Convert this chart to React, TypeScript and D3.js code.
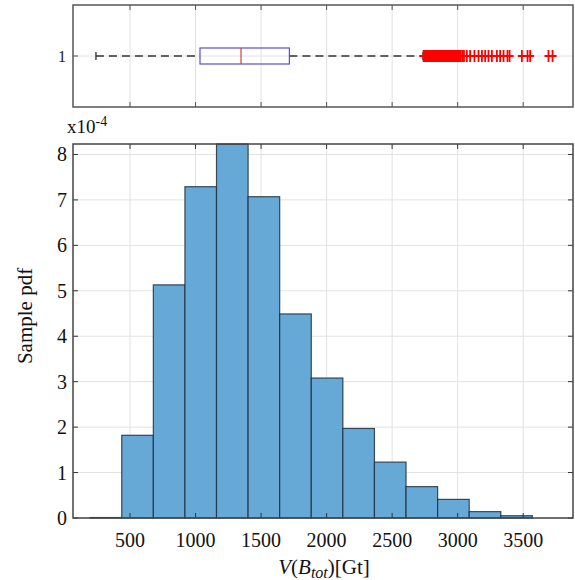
import React, { useRef, useEffect } from "react";
import * as d3 from "d3";

// histogram bins (Gt) and sample pdf heights (x1e-4)
const binEdges = [196, 437, 678, 919, 1160, 1401, 1642, 1883, 2124, 2365, 2606, 2847, 3088, 3329, 3570];
const pdfValues = [0.01, 1.82, 5.13, 7.29, 8.23, 7.07, 4.49, 3.08, 1.97, 1.23, 0.69, 0.41, 0.14, 0.05];

const xTicks = [500, 1000, 1500, 2000, 2500, 3000, 3500];
const yTicks = [0, 1, 2, 3, 4, 5, 6, 7, 8];

// box plot: lower whisker, q1, median, q3, upper whisker
const boxStats = [240, 1034, 1347, 1716, 2735];
const outliers = [
  2740, 2745, 2751, 2756, 2760, 2764, 2768, 2773, 2779, 2784, 2790, 2796, 2801, 2806,
  2812, 2817, 2822, 2828, 2835, 2840, 2846, 2852, 2858, 2864, 2870, 2875, 2881, 2887,
  2893, 2899, 2905, 2911, 2917, 2922, 2928, 2934, 2940, 2946, 2952, 2957, 2963, 2969,
  2975, 2981, 2987, 2992, 2998, 3004, 3010, 3016, 3022, 3035, 3048,
  3070, 3095, 3128, 3159, 3185, 3210, 3235, 3261, 3299, 3324, 3350, 3380, 3396,
  3490, 3533, 3553, 3693, 3724,
];

const FONT = "'Liberation Serif', 'DejaVu Serif', serif";

export default function App() {
  const svgRef = useRef<SVGSVGElement>(null);

  useEffect(() => {
    const svg = d3.select(svgRef.current);
    svg.selectAll("*").remove();

    const left = 73, right = 573;
    const box = { top: 5, bottom: 107 };
    const main = { top: 144, bottom: 518 };

    const x = d3.scaleLinear().domain([65, 3880]).range([left, right]);
    const y = d3.scaleLinear().domain([0, 8.23]).range([main.bottom, main.top]);
    const yBox = d3.scaleLinear().domain([0.5, 1.5]).range([box.bottom, box.top]);

    const gridColor = "#e2e2e2";
    const axisColor = "#555";

    // ---------- top panel: box plot ----------
    const gb = svg.append("g");
    gb.selectAll("line.vgrid")
      .data(xTicks)
      .join("line")
      .attr("x1", (d) => x(d)).attr("x2", (d) => x(d))
      .attr("y1", box.top).attr("y2", box.bottom)
      .attr("stroke", gridColor);
    gb.append("line")
      .attr("x1", left).attr("x2", right)
      .attr("y1", yBox(1)).attr("y2", yBox(1))
      .attr("stroke", gridColor);

    // tick marks (inward, top and bottom)
    gb.selectAll("line.tb")
      .data(xTicks)
      .join("line")
      .attr("x1", (d) => x(d)).attr("x2", (d) => x(d))
      .attr("y1", box.bottom).attr("y2", box.bottom - 5)
      .attr("stroke", axisColor);
    gb.selectAll("line.tt")
      .data(xTicks)
      .join("line")
      .attr("x1", (d) => x(d)).attr("x2", (d) => x(d))
      .attr("y1", box.top).attr("y2", box.top + 5)
      .attr("stroke", axisColor);
    gb.append("line")
      .attr("x1", left).attr("x2", left + 5)
      .attr("y1", yBox(1)).attr("y2", yBox(1))
      .attr("stroke", axisColor);
    gb.append("text")
      .attr("x", left - 7).attr("y", yBox(1))
      .attr("dy", "0.35em")
      .attr("text-anchor", "end")
      .attr("font-family", FONT)
      .attr("font-size", 16)
      .attr("fill", "#222")
      .text("1");

    const [wLo, q1, med, q3, wHi] = boxStats;
    const cy = yBox(1);
    const halfBox = 8;

    // whiskers
    gb.selectAll("line.whisk")
      .data([[wLo, q1], [q3, wHi]])
      .join("line")
      .attr("x1", (d) => x(d[0])).attr("x2", (d) => x(d[1]))
      .attr("y1", cy).attr("y2", cy)
      .attr("stroke", "#333")
      .attr("stroke-width", 1.3)
      .attr("stroke-dasharray", "8,5");
    gb.selectAll("line.cap")
      .data([wLo, wHi])
      .join("line")
      .attr("x1", (d) => x(d)).attr("x2", (d) => x(d))
      .attr("y1", cy - 4).attr("y2", cy + 4)
      .attr("stroke", "#333")
      .attr("stroke-width", 1.3);

    gb.append("rect")
      .attr("x", x(q1)).attr("y", cy - halfBox)
      .attr("width", x(q3) - x(q1)).attr("height", halfBox * 2)
      .attr("fill", "none")
      .attr("stroke", "#5b4fc9")
      .attr("stroke-width", 1.2);
    gb.append("line")
      .attr("x1", x(med)).attr("x2", x(med))
      .attr("y1", cy - halfBox).attr("y2", cy + halfBox)
      .attr("stroke", "#d0403a")
      .attr("stroke-width", 1.2);

    gb.selectAll("path.out")
      .data(outliers)
      .join("path")
      .attr("d", (d) => `M${x(d) - 4},${cy}H${x(d) + 4}M${x(d)},${cy - 6}V${cy + 6}`)
      .attr("stroke", "#ff0000")
      .attr("stroke-width", 1.8)
      .attr("fill", "none");

    gb.append("rect")
      .attr("x", left).attr("y", box.top)
      .attr("width", right - left).attr("height", box.bottom - box.top)
      .attr("fill", "none")
      .attr("stroke", axisColor)
      .attr("stroke-width", 1.5);

    // ---------- main panel: histogram ----------
    const gm = svg.append("g");
    gm.selectAll("line.vgrid")
      .data(xTicks)
      .join("line")
      .attr("x1", (d) => x(d)).attr("x2", (d) => x(d))
      .attr("y1", main.top).attr("y2", main.bottom)
      .attr("stroke", gridColor);
    gm.selectAll("line.hgrid")
      .data(yTicks)
      .join("line")
      .attr("x1", left).attr("x2", right)
      .attr("y1", (d) => y(d)).attr("y2", (d) => y(d))
      .attr("stroke", gridColor);

    const bins = pdfValues.map((v, i) => ({ x0: binEdges[i], x1: binEdges[i + 1], v }));
    gm.selectAll("rect.bar")
      .data(bins)
      .join("rect")
      .attr("class", "bar")
      .attr("x", (d) => x(d.x0))
      .attr("y", (d) => y(d.v))
      .attr("width", (d) => x(d.x1) - x(d.x0))
      .attr("height", (d) => y(0) - y(d.v))
      .attr("fill", "#66a9d7")
      .attr("stroke", "#1f2f40")
      .attr("stroke-opacity", 0.85)
      .attr("stroke-width", 1.2);

    // ticks inward
    gm.selectAll("line.tb")
      .data(xTicks)
      .join("line")
      .attr("x1", (d) => x(d)).attr("x2", (d) => x(d))
      .attr("y1", main.bottom).attr("y2", main.bottom - 5)
      .attr("stroke", "#333");
    gm.selectAll("line.tt")
      .data(xTicks)
      .join("line")
      .attr("x1", (d) => x(d)).attr("x2", (d) => x(d))
      .attr("y1", main.top).attr("y2", main.top + 5)
      .attr("stroke", "#333");
    gm.selectAll("line.tl")
      .data(yTicks)
      .join("line")
      .attr("x1", left).attr("x2", left + 5)
      .attr("y1", (d) => y(d)).attr("y2", (d) => y(d))
      .attr("stroke", "#333");
    gm.selectAll("line.tr")
      .data(yTicks)
      .join("line")
      .attr("x1", right).attr("x2", right - 5)
      .attr("y1", (d) => y(d)).attr("y2", (d) => y(d))
      .attr("stroke", "#333");

    gm.append("rect")
      .attr("x", left).attr("y", main.top)
      .attr("width", right - left).attr("height", main.bottom - main.top)
      .attr("fill", "none")
      .attr("stroke", "#444")
      .attr("stroke-width", 1.5);

    // tick labels
    gm.selectAll("text.xl")
      .data(xTicks)
      .join("text")
      .attr("x", (d) => x(d))
      .attr("y", 547)
      .attr("text-anchor", "middle")
      .attr("font-family", FONT)
      .attr("font-size", 20)
      .attr("fill", "#111")
      .text((d) => d);
    gm.selectAll("text.yl")
      .data(yTicks)
      .join("text")
      .attr("x", left - 6)
      .attr("y", (d) => y(d))
      .attr("dy", "0.35em")
      .attr("text-anchor", "end")
      .attr("font-family", FONT)
      .attr("font-size", 20)
      .attr("fill", "#111")
      .text((d) => d);

    // exponent
    const ex = gm.append("text")
      .attr("x", 67).attr("y", 133)
      .attr("font-family", FONT)
      .attr("font-size", 19)
      .attr("fill", "#111");
    ex.append("tspan").text("x10");
    ex.append("tspan").attr("dy", -7).attr("font-size", 14).text("-4");

    // axis titles
    gm.append("text")
      .attr("transform", `translate(32,${(main.top + main.bottom) / 2 - 15}) rotate(-90)`)
      .attr("text-anchor", "middle")
      .attr("font-family", FONT)
      .attr("font-size", 21)
      .attr("fill", "#111")
      .text("Sample pdf");

    const xl = gm.append("text")
      .attr("x", 324).attr("y", 574)
      .attr("text-anchor", "middle")
      .attr("font-family", FONT)
      .attr("font-size", 21)
      .attr("fill", "#111");
    xl.append("tspan").attr("font-style", "italic").text("V");
    xl.append("tspan").text("(");
    xl.append("tspan").attr("font-style", "italic").text("B");
    xl.append("tspan").attr("font-style", "italic").attr("font-size", 16).attr("dy", 4).text("tot");
    xl.append("tspan").attr("dy", -4).text(")[Gt]");
  }, []);

  return (
    <svg
      ref={svgRef}
      width={575}
      height={580}
      style={{ position: "absolute", left: 0, top: 0, background: "#fff" }}
    />
  );
}
